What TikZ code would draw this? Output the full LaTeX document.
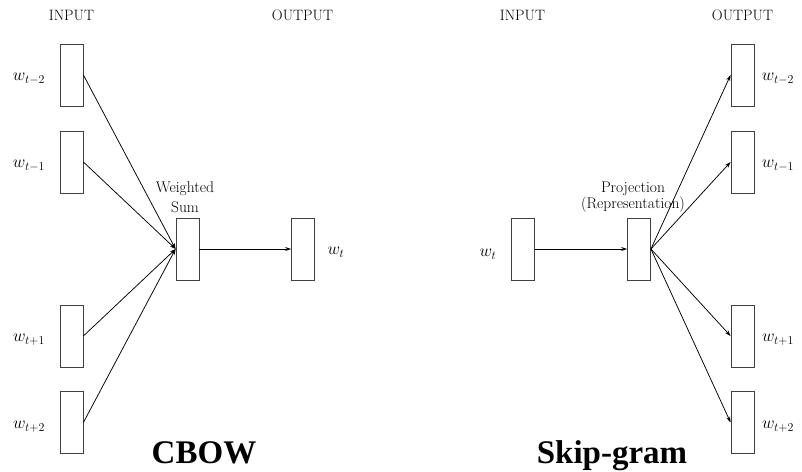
\documentclass[tikz,border=0pt]{standalone}
\usepackage{fontspec}
\newfontfamily\titlefont{Liberation Serif}
\usetikzlibrary{arrows.meta}
\begin{document}
\begin{tikzpicture}[x=1pt,y=-1pt,
  vec/.style={draw=black!75, line width=0.8pt, minimum width=23pt, minimum height=62pt, inner sep=0pt},
  head/.style={font=\fontsize{15}{18}\selectfont, anchor=base, inner sep=0pt},
  wlab/.style={font=\fontsize{16.5}{19}\selectfont, inner sep=0pt},
  note/.style={font=\fontsize{15.5}{19}\selectfont, align=center, inner sep=0pt, anchor=base},
  title/.style={font=\titlefont\bfseries\fontsize{33}{36}\selectfont, anchor=base, inner sep=0pt},
  conn/.style={line width=0.75pt, -{Stealth[length=6pt,width=4pt]}}
]
\useasboundingbox (0,0) rectangle (802,471);
% ---------- CBOW ----------
\node[head] (hin1) at (71.5,20) {INPUT};
\node[head] (hout1) at (302.5,20) {OUTPUT};
\node[vec] (in1) at (71.5,75) {};
\node[vec] (in2) at (71.5,162) {};
\node[vec] (in3) at (71.5,336) {};
\node[vec] (in4) at (71.5,422.5) {};
\node[vec] (sum) at (187.5,249) {};
\node[vec] (out) at (303,249) {};
\node[wlab] (lin1) at (29,79) {$w_{t-2}$};
\node[wlab] (lin2) at (29,166) {$w_{t-1}$};
\node[wlab] (lin3) at (29,340) {$w_{t+1}$};
\node[wlab] (lin4) at (29,427) {$w_{t+2}$};
\node[wlab] (lout) at (336,252) {$w_{t}$};
\node[note] (ws1) at (185,192) {Weighted};
\node[note] (ws2) at (185,212) {Sum};
\node[title] (cbow) at (204,463) {CBOW};
\foreach \i in {1,2,3,4} \draw[conn] (in\i.east) -- (sum.west);
\draw[conn] (sum.east) -- (out.west);
% ---------- Skip-gram ----------
\node[head] (hin2) at (522.5,20) {INPUT};
\node[head] (hout2) at (742.5,20) {OUTPUT};
\node[vec] (sin) at (523,249) {};
\node[vec] (proj) at (639,249) {};
\node[vec] (o1) at (742.5,75) {};
\node[vec] (o2) at (742.5,162) {};
\node[vec] (o3) at (742.5,336) {};
\node[vec] (o4) at (742.5,422.5) {};
\node[wlab] (lo1) at (778,79) {$w_{t-2}$};
\node[wlab] (lo2) at (778,166) {$w_{t-1}$};
\node[wlab] (lo3) at (778,340) {$w_{t+1}$};
\node[wlab] (lo4) at (778,427) {$w_{t+2}$};
\node[wlab] (lsin) at (488,254) {$w_{t}$};
\node[note] (pr1) at (633,192) {Projection};
\node[note] (pr2) at (633,208) {(Representation)};
\node[title] (skip) at (612,463) {Skip-gram};
\draw[conn] (sin.east) -- (proj.west);
\foreach \i in {1,2,3,4} \draw[conn] (proj.east) -- (o\i.west);
\end{tikzpicture}
\end{document}
